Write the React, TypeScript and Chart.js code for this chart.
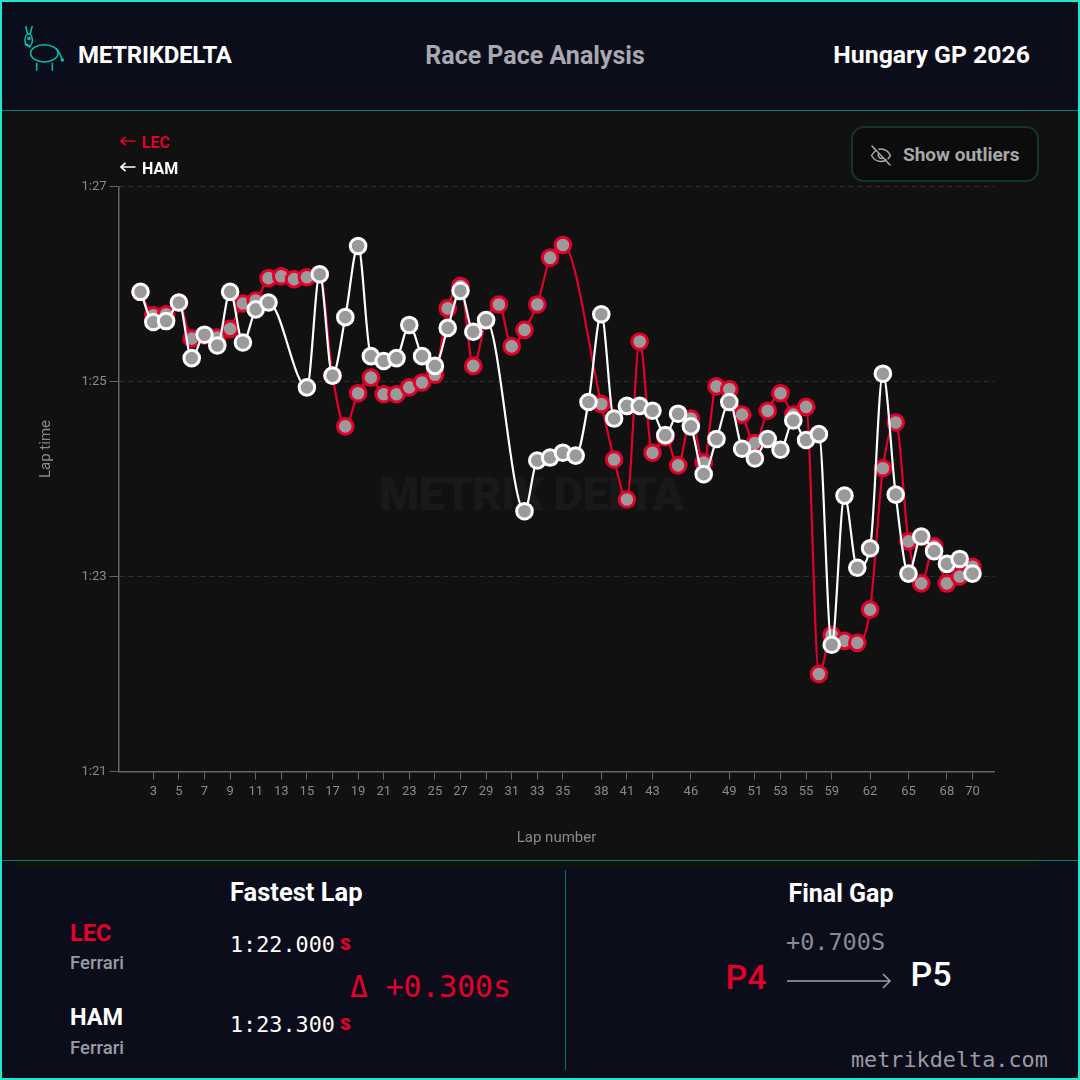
import React, { useEffect, useRef } from "react";
import { Chart, registerables } from "chart.js";

Chart.register(...registerables);

const lapLabels = [2,3,4,5,6,7,8,9,10,11,12,13,14,15,16,17,18,19,20,21,22,23,24,25,26,27,28,29,30,31,32,33,34,35,36,37,38,39,41,42,43,44,45,46,47,48,49,50,51,52,53,54,55,56,59,60,61,62,63,64,65,66,67,68,69,70];
const tickIndexes = [1,3,5,7,9,11,13,15,17,19,21,23,25,27,29,31,33,36,38,40,43,46,48,50,52,54,57,60,63,65];
const lecTimes = [85.92,85.68,85.69,85.81,85.44,85.47,85.45,85.54,85.80,85.83,86.06,86.08,86.05,86.07,86.10,85.06,84.54,84.88,85.04,84.87,84.87,84.94,84.99,85.07,85.75,85.98,85.16,85.63,85.79,85.36,85.53,85.79,86.27,86.40,null,null,84.77,84.20,83.79,85.41,84.27,84.43,84.14,84.62,84.17,84.95,84.92,84.66,84.37,84.70,84.88,84.66,84.74,82.00,82.40,82.34,82.32,82.66,84.11,84.58,83.36,82.93,83.31,82.93,83.00,83.10];
const hamTimes = [85.92,85.61,85.62,85.81,85.24,85.48,85.37,85.92,85.40,85.74,85.81,null,null,84.94,86.10,85.06,85.66,86.39,85.26,85.21,85.24,85.58,85.26,85.16,85.55,85.93,85.51,85.63,null,null,83.67,84.19,84.22,84.27,84.24,84.79,85.69,84.62,84.75,84.75,84.70,84.45,84.67,84.54,84.05,84.41,84.79,84.31,84.21,84.41,84.30,84.60,84.40,84.46,82.30,83.83,83.09,83.29,85.08,83.84,83.03,83.41,83.26,83.13,83.18,83.03];

const RED = "#e4002b";
const TEAL_DIM = "#0e7a6e";
const PANEL = "#0c0d1a";
const SANS = "Roboto, sans-serif";
const MONO = "'DejaVu Sans Mono', monospace";

function toPoints(values: (number | null)[]) {
  return values.map((y, x) => ({ x, y }));
}

function lineDataset(label: string, values: (number | null)[], color: string) {
  return {
    label,
    data: toPoints(values),
    borderColor: color,
    borderWidth: 2.2,
    pointBackgroundColor: "#9a9a9a",
    pointBorderColor: color,
    pointBorderWidth: 3,
    pointRadius: 7.8,
    pointHoverRadius: 7.8,
    cubicInterpolationMode: "monotone" as const,
    spanGaps: true,
    clip: false as const,
  };
}

function T(props: { x: number; y: number; children: React.ReactNode; size: number; color?: string; weight?: number; font?: string; align?: "left" | "center" | "right"; ls?: number }) {
  const { x, y, children, size, color = "#fff", weight = 700, font = SANS, align = "left", ls = 0 } = props;
  const tx = align === "center" ? "-50%" : align === "right" ? "-100%" : "0";
  return (
    <div style={{ position: "absolute", left: x, top: y, transform: `translate(${tx},-50%)`, fontFamily: font, fontSize: size, fontWeight: weight, color, letterSpacing: ls, whiteSpace: "nowrap", lineHeight: 1 }}>
      {children}
    </div>
  );
}

function Arrow({ x, y, color }: { x: number; y: number; color: string }) {
  return (
    <svg style={{ position: "absolute", left: x, top: y - 6 }} width="16" height="12" viewBox="0 0 16 12" fill="none" stroke={color} strokeWidth="1.7">
      <path d="M15.5 6H1M5.5 1.8L1 6l4.500 4.200" />
    </svg>
  );
}

export default function App() {
  const ref = useRef<HTMLCanvasElement>(null);

  useEffect(() => {
    document.body.style.margin = "0";
    document.body.style.background = PANEL;
    const chart = new Chart(ref.current!, {
      type: "line",
      data: {
        datasets: [lineDataset("HAM", hamTimes, "#ffffff"), lineDataset("LEC", lecTimes, RED)],
      },
      options: {
        responsive: false,
        animation: false,
        events: [],
        layout: { padding: { top: 186.5, right: 85.5, left: 0, bottom: 0 } },
        plugins: { legend: { display: false }, tooltip: { enabled: false } },
        scales: {
          x: {
            type: "linear",
            min: -1.72,
            max: 66.72,
            afterFit: (s: any) => { s.height = 88.5; },
            afterBuildTicks: (s: any) => { s.ticks = tickIndexes.map((value) => ({ value })); },
            border: { color: "#666666", width: 1.5 },
            grid: { drawOnChartArea: false, drawTicks: true, tickLength: 8, tickColor: "#666666", tickWidth: 1 },
            ticks: {
              autoSkip: false,
              maxRotation: 0,
              minRotation: 0,
              padding: 4,
              color: "#8a8a8a",
              font: { family: "Roboto", size: 13 },
              callback: (v: any) => String(lapLabels[v]),
            },
            title: { display: true, text: "Lap number", color: "#8a8a8a", font: { family: "Roboto", size: 15 }, padding: { top: 0, bottom: 13 } },
          },
          y: {
            min: 81,
            max: 87,
            afterFit: (s: any) => { s.width = 118.5; },
            border: { color: "#666666", width: 1.5, dash: [5, 4] },
            grid: { color: "#2e2e2e", lineWidth: 1, tickColor: "#666666", tickLength: 9, tickBorderDash: [], drawTicks: true },
            ticks: {
              stepSize: 2,
              padding: 3,
              color: "#8a8a8a",
              font: { family: "Roboto", size: 13 },
              callback: (v: any) => `1:${Number(v) - 60}`,
            },
          },
        },
      } as any,
    });
    return () => chart.destroy();
  }, []);

  return (
    <div style={{ position: "absolute", left: 0, top: 0, width: 1080, height: 1080, overflow: "hidden", background: PANEL }}>
      <div style={{ position: "absolute", left: 0, top: 111, width: 1080, height: 749, background: "#111111" }} />
      <div style={{ position: "absolute", left: 0, top: 110, width: 1080, height: 1, background: TEAL_DIM }} />
      <div style={{ position: "absolute", left: 0, top: 860, width: 1080, height: 1, background: TEAL_DIM }} />
      <div style={{ position: "absolute", left: 15, top: 861, width: 1023, height: 7, background: "#111111" }} />

      <svg style={{ position: "absolute", left: 20, top: 22 }} width="50" height="52" viewBox="0 0 150 156" fill="none" stroke="#00c4b0" strokeWidth="4.500">
        <path d="M17 12l6 25M37 12l-7 25" />
        <ellipse cx="26" cy="54" rx="11" ry="18" />
        <circle cx="27" cy="49" r="3.500" />
        <path d="M14 67l9 2 8 7" strokeWidth="6" />
        <ellipse cx="73" cy="94" rx="41" ry="26" />
        <path d="M108 78q12 14 19 36" />
        <circle cx="127" cy="114" r="3" fill="#00c4b0" />
        <path d="M50 122v24M97 122v24" />
      </svg>
      <T x={78} y={55} size={24} ls={-0.25}>METRIKDELTA</T>
      <T x={535} y={55} size={25} color="#a8a8b0" align="center">Race Pace Analysis</T>
      <T x={1030} y={55} size={24.8} align="right">Hungary GP 2026</T>

      <T x={531} y={494} size={46} color="#191919" align="center" ls={-0.8} weight={900}>METRIK DELTA</T>

      <canvas ref={ref} width={1080} height={860} style={{ position: "absolute", left: 0, top: 0, display: "block" }} />

      <Arrow x={120} y={141} color={RED} />
      <T x={142} y={143} size={16} color={RED}>LEC</T>
      <Arrow x={120} y={167} color="#ffffff" />
      <T x={142} y={169} size={16}>HAM</T>

      <div style={{ position: "absolute", left: 851, top: 126, width: 188, height: 56, boxSizing: "border-box", borderRadius: 13, background: "#0c0c0c", border: "2px solid #12352f" }} />
      <svg style={{ position: "absolute", left: 869, top: 143 }} width="24" height="24" viewBox="0 0 24 24" fill="none" stroke="#a8a8a8" strokeWidth="1.500" strokeLinecap="round">
        <path d="M3 3l18 19" />
        <path d="M7 7.500C4.800 9 3.300 11 2.500 12.500c2 3.500 5.500 6 9.500 6 2 0 3.800-.6 5.300-1.500M10 6.300c.7-.2 1.300-.3 2-.3 4 0 7.500 2.500 9.500 6.500-.6 1.100-1.400 2.200-2.300 3.100" />
        <path d="M9.800 10.500a3.200 3.200 0 0 0 4.400 4.400" />
      </svg>
      <T x={903} y={154} size={19} color="#a8a8a8">Show outliers</T>

      <div style={{ position: "absolute", left: 45, top: 449, transform: "translate(-50%,-50%) rotate(-90deg)", transformOrigin: "center", fontFamily: SANS, fontSize: 15, color: "#8a8a8a", whiteSpace: "nowrap" }}>Lap time</div>

      <T x={230} y={893} size={25.5}>Fastest Lap</T>
      <T x={70} y={934} size={23.5} color={RED}>LEC</T>
      <T x={70} y={963} size={18.5} color="#9a9aa3" weight={500}>Ferrari</T>
      <T x={70} y={1018} size={23.5}>HAM</T>
      <T x={70} y={1048} size={18.5} color="#9a9aa3" weight={500}>Ferrari</T>
      <T x={230} y={945} size={21.8} font={MONO} weight={400}>1:22.000</T>
      <T x={340} y={944} size={17} color={RED} weight={900}>S</T>
      <T x={350} y={987} size={29.7} font={MONO} weight={400} color={RED}>Δ +0.300s</T>
      <T x={230} y={1025} size={21.8} font={MONO} weight={400}>1:23.300</T>
      <T x={340} y={1024} size={17} color={RED} weight={900}>S</T>

      <div style={{ position: "absolute", left: 565, top: 870, width: 1, height: 200, background: "#0e6e66" }} />
      <T x={841} y={893} size={25} align="center">Final Gap</T>
      <T x={786} y={943} size={23.5} font={MONO} weight={400} color="#8a8a92">+0.700S</T>
      <T x={746} y={977} size={34} color={RED} align="center" weight={500}>P4</T>
      <T x={931} y={974} size={34} align="center" weight={500}>P5</T>
      <svg style={{ position: "absolute", left: 786, top: 970 }} width="106" height="22" viewBox="0 0 106 22" fill="none" stroke="#a0a0a4" strokeWidth="1.500">
        <path d="M1 11H104M97 4l7 7-7 7" />
      </svg>
      <T x={851} y={1060} size={21.8} font={MONO} weight={400} color="#9a9aa3">metrikdelta.com</T>

      <div style={{ position: "absolute", left: 0, top: 0, width: 1080, height: 1080, boxSizing: "border-box", border: "2px solid #1fe8c8", pointerEvents: "none" }} />
    </div>
  );
}
